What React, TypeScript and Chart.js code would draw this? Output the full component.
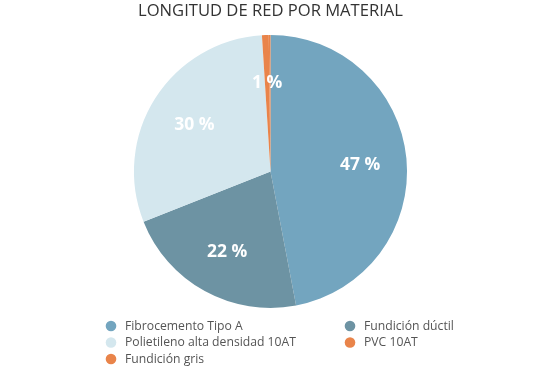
import React, { useEffect, useRef } from "react";
import { Chart, registerables } from "chart.js";

Chart.register(...registerables);

const TITLE = "LONGITUD DE RED POR MATERIAL";
const categories = [
  "Fibrocemento Tipo A",
  "Fundición dúctil",
  "Polietileno alta densidad 10AT",
  "PVC 10AT",
  "Fundición gris",
];
const values = [47, 22, 30, 0.8, 0.2];
const colors = ["#73a5bf", "#6d93a3", "#d4e7ee", "#e9844a", "#e9844a"];

const FONT = "'Open Sans', 'DejaVu Sans', sans-serif";

const sliceLabels = {
  id: "sliceLabels",
  afterDatasetsDraw(chart: any) {
    const ctx = chart.ctx;
    const meta = chart.getDatasetMeta(0);
    const data = chart.data.datasets[0].data as number[];
    const total = data.reduce((a, b) => a + b, 0);
    ctx.save();
    ctx.fillStyle = "#ffffff";
    ctx.font = `bold 17.5px ${FONT}`;
    ctx.textAlign = "center";
    ctx.textBaseline = "middle";
    meta.data.forEach((arc: any, i: number) => {
      const pct = Math.round((data[i] / total) * 100);
      if (pct < 1) return;
      const p = arc.getProps(["x", "y", "startAngle", "endAngle", "outerRadius"], true);
      const mid = (p.startAngle + p.endAngle) / 2;
      const r = p.outerRadius * 0.66;
      ctx.fillText(`${pct} %`, p.x + Math.cos(mid) * r, p.y + Math.sin(mid) * r + 2);
    });
    ctx.restore();
  },
};

const gridLegend = {
  id: "gridLegend",
  afterDraw(chart: any) {
    const ctx = chart.ctx;
    const colX = [111, 350];
    const rowY = [326, 342.5, 359];
    ctx.save();
    ctx.font = `12.2px ${FONT}`;
    ctx.textBaseline = "middle";
    ctx.textAlign = "left";
    categories.forEach((label, i) => {
      const cx = colX[i % 2];
      const cy = rowY[Math.floor(i / 2)];
      ctx.beginPath();
      ctx.arc(cx, cy, 5.3, 0, Math.PI * 2);
      ctx.fillStyle = colors[i];
      ctx.fill();
      ctx.fillStyle = "#555555";
      ctx.fillText(label, cx + 14, cy + 0.5);
    });
    ctx.restore();
  },
};

export default function App() {
  const ref = useRef<HTMLCanvasElement | null>(null);
  useEffect(() => {
    if (!ref.current) return;
    const chart = new Chart(ref.current, {
      type: "pie",
      data: {
        labels: categories,
        datasets: [
          {
            data: values,
            backgroundColor: colors,
            borderWidth: 0,
          },
        ],
      },
      options: {
        animation: false,
        responsive: false,
        layout: { padding: { top: 0, left: 0, right: 14, bottom: 59 } },
        plugins: {
          legend: { display: false },
          tooltip: { enabled: false },
          title: {
            display: true,
            text: TITLE,
            color: "#333333",
            font: { family: FONT, size: 16.6, weight: "normal" },
            padding: { top: 1.5, bottom: 13.5 },
          },
        },
      },
      plugins: [sliceLabels, gridLegend],
    });
    return () => chart.destroy();
  }, []);
  return (
    <div style={{ position: "absolute", left: 0, top: 0, width: 555, height: 367, background: "#fff" }}>
      <canvas ref={ref} width={555} height={367} style={{ width: 555, height: 367 }} />
    </div>
  );
}
